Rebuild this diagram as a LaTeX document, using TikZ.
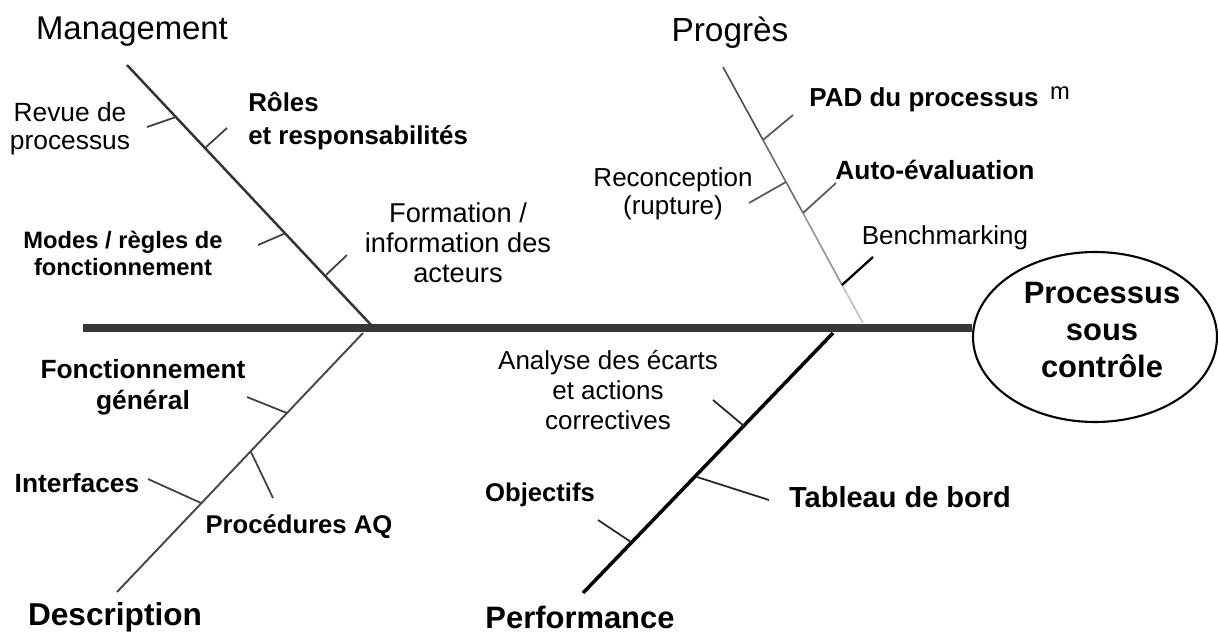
\documentclass[tikz,border=0pt]{standalone}
\usepackage{fontspec}
\setmainfont{Liberation Sans}
\usetikzlibrary{shapes.geometric}
\newcommand{\sz}[2]{\fontsize{#1}{#2}\selectfont}
\begin{document}
\begin{tikzpicture}[x=0.02cm,y=-0.02cm,txt/.style={inner sep=0pt,align=center},bone/.style={line width=1.4pt,draw=black!80},tick/.style={line width=1pt,draw=black!75}]
\useasboundingbox (0,0) rectangle (1218,636);

% head and spine
\node[ellipse,draw,line width=1.2pt,minimum width=4.88cm,minimum height=3.4cm,inner sep=0pt] (head) at (1095,337) {};
\node[txt,font=\bfseries\sz{17.6}{21.3}] (headtxt) at (1102,330) {Processus\\sous\\contrôle};
\coordinate (tail) at (83,328);
\draw[line width=4.6pt,draw=black!78] (tail) -- (tail -| head.west);

% Management
\node[txt,font=\sz{18.7}{21}] (mgt) at (132,32) {Management};
\coordinate (mgtTop) at (127,65);
\coordinate (mgtFoot) at (373,327);
\draw[bone] (mgtTop) -- (mgtFoot);
\node[txt,font=\sz{15}{16}] (revue) at (70,129) {Revue de\\processus};
\coordinate (m1) at (176,117);
\coordinate (m1e) at (147,127);
\draw[tick] (m1) -- (m1e);
\node[txt,anchor=west,align=left,font=\bfseries\sz{14.7}{18.7}] (roles) at (248,121) {Rôles\\et responsabilités};
\coordinate (m2) at (205,148);
\coordinate (m2e) at (227,128);
\draw[tick] (m2) -- (m2e);
\node[txt,font=\bfseries\sz{13.5}{15.3}] (modes) at (123,253) {Modes / règles de\\fonctionnement};
\coordinate (m3) at (286,233);
\coordinate (m3e) at (258,245);
\draw[tick] (m3) -- (m3e);
\node[txt,font=\sz{15.5}{17}] (formation) at (458,243) {Formation /\\information des\\acteurs};
\coordinate (m4) at (326,275);
\coordinate (m4e) at (347,255);
\draw[tick] (m4) -- (m4e);

% Progres
\node[txt,font=\sz{19}{21}] (prog) at (730,33) {Progrès};
\coordinate (prgTop) at (723,67);
\coordinate (prgFoot) at (863,323);
\coordinate (p1) at (763,140);
\coordinate (p1e) at (793,115);
\coordinate (p2) at (786,182);
\coordinate (p2e) at (749,203);
\coordinate (p3) at (803,213);
\coordinate (p3e) at (836,183);
\coordinate (p4) at (842,285);
\coordinate (p4e) at (873,257);
\draw[line width=0.9pt,draw=black!70] (prgTop) -- (p1);
\draw[line width=0.9pt,draw=black!58] (p1) -- (p3);
\draw[line width=0.9pt,draw=black!42] (p3) -- (p4);
\draw[line width=0.9pt,draw=black!25] (p4) -- (prgFoot);
\node[txt,font=\bfseries\sz{14.8}{16}] (pad) at (924,100) {PAD du processus};
\node[txt,font=\sz{13.5}{14}] (padm) at (1060,93) {m};
\draw[tick,draw=black!65] (p1) -- (p1e);
\node[txt,font=\sz{14.8}{15.9}] (recon) at (673,194) {Reconception\\(rupture)};
\draw[tick,draw=black!65] (p2) -- (p2e);
\node[txt,font=\bfseries\sz{15}{16}] (auto) at (935,170) {Auto-évaluation};
\draw[tick,draw=black!65] (p3) -- (p3e);
\node[txt,font=\sz{14.8}{16}] (bench) at (945,238) {Benchmarking};
\draw[line width=1.3pt] (p4) -- (p4e);

% Description
\node[txt,font=\bfseries\sz{18}{20}] (desc) at (115,617) {Description};
\coordinate (dscTop) at (363,333);
\coordinate (dscFoot) at (117,592);
\draw[bone,line width=1.1pt,draw=black!72] (dscTop) -- (dscFoot);
\node[txt,font=\bfseries\sz{15}{17.6}] (fonct) at (143,387) {Fonctionnement\\général};
\coordinate (d1) at (287,413);
\coordinate (d1e) at (247,397);
\draw[tick] (d1) -- (d1e);
\node[txt,font=\bfseries\sz{14.6}{16}] (proc) at (299,527) {Procédures AQ};
\coordinate (d2) at (251,452);
\coordinate (d2e) at (273,498);
\draw[tick] (d2) -- (d2e);
\node[txt,font=\bfseries\sz{15}{16}] (interf) at (77,483) {Interfaces};
\coordinate (d3) at (201,503);
\coordinate (d3e) at (148,479);
\draw[tick] (d3) -- (d3e);

% Performance
\node[txt,font=\bfseries\sz{17.6}{19}] (perf) at (580,617) {Performance};
\coordinate (prfTop) at (833,333);
\coordinate (prfFoot) at (583,593);
\draw[line width=2pt] (prfTop) -- (prfFoot);
\node[txt,font=\sz{14.8}{17}] (analyse) at (608,390) {Analyse des écarts\\et actions\\correctives};
\coordinate (f1) at (744,426);
\coordinate (f1e) at (713,400);
\draw[tick,draw=black!85] (f1) -- (f1e);
\node[txt,font=\bfseries\sz{16.5}{18}] (tableau) at (900,497) {Tableau de bord};
\coordinate (f2) at (697,477);
\coordinate (f2e) at (769,500);
\draw[tick,draw=black!85] (f2) -- (f2e);
\node[txt,font=\bfseries\sz{14.6}{16}] (objectifs) at (540,495) {Objectifs};
\coordinate (f3) at (631,542);
\coordinate (f3e) at (598,520);
\draw[tick,draw=black!85] (f3) -- (f3e);
\end{tikzpicture}
\end{document}
